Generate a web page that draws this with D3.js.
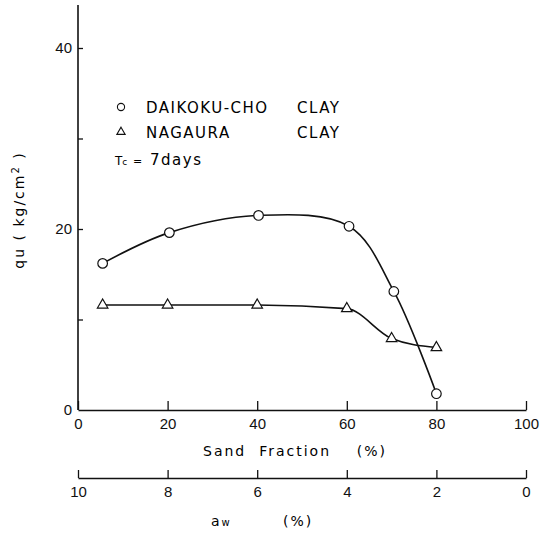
<!DOCTYPE html>
<html>
<head>
<meta charset="utf-8">
<script src="https://cdn.jsdelivr.net/npm/d3@7"></script>
<style>
  body { margin: 0; background: #fff; }
  svg { font-family: "DejaVu Sans", sans-serif; }
  .axis text { font-size: 15px; fill: #111; }
  .axis line, .axis path { stroke: #111; stroke-width: 1.3; }
</style>
</head>
<body>
<div id="chart"></div>
<script>
// sand fraction (%) at each sample
var sandDaikoku = [5.5, 20.4, 40.3, 60.5, 70.5, 80];
var quDaikoku   = [16.2, 19.6, 21.5, 20.3, 13.1, 1.8];
var sandNagaura = [5.5, 20, 40, 60, 70, 80];
var quNagaura   = [11.6, 11.6, 11.6, 11.2, 7.9, 6.9];

var sandTicks  = [0, 20, 40, 60, 80, 100];
var awTicks    = [10, 8, 6, 4, 2, 0];
var quTicks    = [0, 10, 20, 30, 40];
var quLabels   = [0, 20, 40];

var width = 558, height = 540;

var svg = d3.select("#chart").append("svg")
    .attr("width", width)
    .attr("height", height);

var x = d3.scaleLinear().domain([0, 100]).range([78, 526]);
var xAw = d3.scaleLinear().domain([10, 0]).range([78, 526]);
var y = d3.scaleLinear().domain([0, 40]).range([410, 48]);

// y axis
svg.append("line")
    .attr("x1", x(0)).attr("x2", x(0))
    .attr("y1", 5).attr("y2", y(0))
    .attr("stroke", "#111").attr("stroke-width", 1.6);

var yAxis = svg.append("g")
    .attr("class", "axis")
    .attr("transform", "translate(" + x(0) + ",0)")
    .call(d3.axisLeft(y)
      .tickValues(quTicks)
      .tickSizeInner(-5)
      .tickSizeOuter(0)
      .tickPadding(6)
      .tickFormat(function(d) { return quLabels.indexOf(d) >= 0 ? d : ""; }));
yAxis.select(".domain").remove();
yAxis.selectAll(".tick").filter(function(d) { return d === 0; }).select("line").remove();

// x axis (sand fraction)
var xAxis = svg.append("g")
    .attr("class", "axis")
    .attr("transform", "translate(0," + y(0) + ")")
    .call(d3.axisBottom(x)
      .tickValues(sandTicks)
      .tickSizeInner(-9)
      .tickSizeOuter(0)
      .tickPadding(8));
xAxis.select(".domain").attr("stroke-width", 1.6);

// second axis (aw)
var awAxis = svg.append("g")
    .attr("class", "axis")
    .attr("transform", "translate(0,478)")
    .call(d3.axisBottom(xAw)
      .tickValues(awTicks)
      .tickSizeInner(-8)
      .tickSizeOuter(0)
      .tickPadding(8));

// axis titles
svg.append("text")
    .attr("transform", "translate(24,210) rotate(-90)")
    .attr("text-anchor", "middle")
    .style("font-size", "14px")
    .style("letter-spacing", "2px")
    .html("qu ( kg/cm<tspan dy='-5' font-size='10px'>2</tspan><tspan dy='5'> )</tspan>");

svg.append("text")
    .attr("x", 203).attr("y", 456)
    .style("font-size", "14px")
    .style("letter-spacing", "2px")
    .attr("xml:space", "preserve")
    .text("Sand  Fraction    (%)");

var awTitle = svg.append("text")
    .attr("x", 211).attr("y", 526)
    .style("font-size", "14px")
    .style("letter-spacing", "2px")
    .attr("xml:space", "preserve");
awTitle.append("tspan").text("a");
awTitle.append("tspan").attr("font-size", "10px").text("w");
awTitle.append("tspan").attr("x", 283).text("(%)");

// curves
var lineC = d3.line()
    .x(function(d) { return x(d[0]); })
    .y(function(d) { return y(d[1]); })
    .curve(d3.curveCatmullRom.alpha(0.5));

var lineT = d3.line()
    .x(function(d) { return x(d[0]); })
    .y(function(d) { return y(d[1]); })
    .curve(d3.curveMonotoneX);

var daikoku = d3.zip(sandDaikoku, quDaikoku);
var nagaura = d3.zip(sandNagaura, quNagaura);

svg.append("path")
    .datum(daikoku)
    .attr("d", lineC)
    .attr("fill", "none")
    .attr("stroke", "#111")
    .attr("stroke-width", 1.6);

svg.append("path")
    .datum(nagaura)
    .attr("d", lineT)
    .attr("fill", "none")
    .attr("stroke", "#111")
    .attr("stroke-width", 1.6);

var tri = d3.symbol().type(d3.symbolTriangle).size(48);

svg.selectAll(".pt-c")
    .data(daikoku)
  .enter().append("circle")
    .attr("class", "pt-c")
    .attr("cx", function(d) { return x(d[0]); })
    .attr("cy", function(d) { return y(d[1]); })
    .attr("r", 4.8)
    .attr("fill", "#fff")
    .attr("stroke", "#111")
    .attr("stroke-width", 1.2);

svg.selectAll(".pt-t")
    .data(nagaura)
  .enter().append("path")
    .attr("class", "pt-t")
    .attr("d", tri)
    .attr("transform", function(d) { return "translate(" + x(d[0]) + "," + y(d[1]) + ")"; })
    .attr("fill", "#fff")
    .attr("stroke", "#111")
    .attr("stroke-width", 1.2);

// legend
var legend = svg.append("g")
    .style("font-size", "15px")
    .style("letter-spacing", "1.5px");

legend.append("circle")
    .attr("cx", 121).attr("cy", 107).attr("r", 3.6)
    .attr("fill", "#fff").attr("stroke", "#111").attr("stroke-width", 1.1);
legend.append("text").attr("x", 146).attr("y", 113).text("DAIKOKU-CHO");
legend.append("text").attr("x", 297).attr("y", 113).text("CLAY");

legend.append("path")
    .attr("d", d3.symbol().type(d3.symbolTriangle).size(30))
    .attr("transform", "translate(121,132)")
    .attr("fill", "#fff").attr("stroke", "#111").attr("stroke-width", 1.1);
legend.append("text").attr("x", 146).attr("y", 138).text("NAGAURA");
legend.append("text").attr("x", 297).attr("y", 138).text("CLAY");

var tc = legend.append("text").attr("x", 115).attr("y", 165).attr("xml:space", "preserve");
tc.append("tspan").style("font-size", "12px").style("letter-spacing", "0px").text("T");
tc.append("tspan").style("font-size", "9px").style("letter-spacing", "0px").text("c");
tc.append("tspan").attr("x", 133).style("font-size", "11px").style("letter-spacing", "0px").text("=");
tc.append("tspan").attr("x", 150).text("7days");
</script>
</body>
</html>
